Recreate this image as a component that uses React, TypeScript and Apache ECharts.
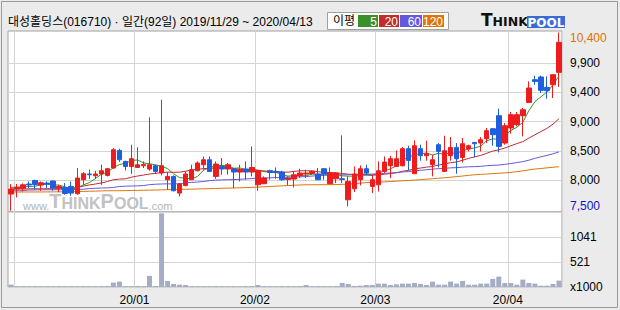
import React, { useEffect, useRef } from 'react';
import * as echarts from 'echarts';

const FONT = '"Liberation Sans", "Noto Sans CJK KR", sans-serif';

const stockName = '대성홀딩스';
const stockCode = '016710';

const dates = [
  '2019/11/29',
  '2019/12/02', '2019/12/03', '2019/12/04', '2019/12/05', '2019/12/06', '2019/12/09', '2019/12/10', '2019/12/11', '2019/12/12', '2019/12/13',
  '2019/12/16', '2019/12/17', '2019/12/18', '2019/12/19', '2019/12/20', '2019/12/23', '2019/12/24', '2019/12/26', '2019/12/27', '2019/12/30',
  '2020/01/02', '2020/01/03', '2020/01/06', '2020/01/07', '2020/01/08', '2020/01/09', '2020/01/10', '2020/01/13', '2020/01/14', '2020/01/15',
  '2020/01/16', '2020/01/17', '2020/01/20', '2020/01/21', '2020/01/22', '2020/01/23', '2020/01/28', '2020/01/29', '2020/01/30', '2020/01/31',
  '2020/02/03', '2020/02/04', '2020/02/05', '2020/02/06', '2020/02/07', '2020/02/10', '2020/02/11', '2020/02/12', '2020/02/13', '2020/02/14',
  '2020/02/17', '2020/02/18', '2020/02/19', '2020/02/20', '2020/02/21', '2020/02/24', '2020/02/25', '2020/02/26', '2020/02/27', '2020/02/28',
  '2020/03/02', '2020/03/03', '2020/03/04', '2020/03/05', '2020/03/06', '2020/03/09', '2020/03/10', '2020/03/11', '2020/03/12', '2020/03/13',
  '2020/03/16', '2020/03/17', '2020/03/18', '2020/03/19', '2020/03/20', '2020/03/23', '2020/03/24', '2020/03/25', '2020/03/26', '2020/03/27',
  '2020/03/30', '2020/03/31',
  '2020/04/01', '2020/04/02', '2020/04/03', '2020/04/06', '2020/04/07', '2020/04/08', '2020/04/09', '2020/04/10', '2020/04/13',
];

const openPrices = [
  7772, 7853, 7858, 7935, 7993, 7919, 7951, 7984, 7870, 7880,
  7896, 7777, 8005, 8098, 8070, 8098, 8075, 8195, 8482, 8303,
  8221, 8205, 8233, 8179, 8233, 8114, 8005, 8059, 7788, 7912,
  8005, 8151, 8249, 8330, 8059, 8221, 8179, 8179, 8130, 8179,
  8130, 7923, 7940, 8151, 8140, 8130, 8010, 8016, 8070, 8098,
  8107, 8098, 8184, 7940, 8021, 8021, 7679, 7858, 8005, 8184,
  7896, 7923, 8140, 8233, 8221, 8233, 8510, 8103, 8510, 8396,
  8249, 8575, 8140, 8396, 8531, 8368, 8510, 8612, 8602, 8672,
  8835, 9047, 8602, 8847, 8900, 9047, 9263, 9633, 9677, 9508,
  9551, 9752,
];
const closePrices = [
  7853, 7880, 7923, 7919, 7928, 7956, 7935, 7870, 7896, 7782,
  7788, 8033, 8103, 8086, 8098, 8151, 8184, 8493, 8330, 8221,
  8347, 8249, 8254, 8249, 8140, 8233, 8059, 7826, 7935, 8098,
  8168, 8277, 8330, 8140, 8260, 8179, 8249, 8130, 8168, 8130,
  8205, 8151, 8033, 8124, 8124, 8005, 8033, 8086, 8114, 8114,
  8140, 8005, 8098, 8114, 8114, 8010, 7977, 8098, 8184, 8114,
  8005, 8151, 8293, 8347, 8347, 8510, 8319, 8558, 8396, 8428,
  8330, 8466, 8477, 8531, 8347, 8591, 8558, 8591, 8656, 8803,
  8738, 8547, 8884, 9063, 9063, 9144, 9498, 9605, 9459, 9454,
  9714, 10240,
];
const lowPrices = [
  7500, 7717, 7814, 7870, 7842, 7826, 7870, 7826, 7805, 7761,
  7744, 7761, 7923, 8021, 8016, 7923, 8059, 8184, 8293, 8156,
  8100, 8195, 8195, 8151, 8098, 8075, 7842, 7814, 7733, 7896,
  8005, 8140, 8168, 8130, 8021, 8086, 8086, 7870, 7977, 8005,
  8059, 7826, 7935, 8005, 8021, 7988, 7912, 7880, 8033, 8033,
  8086, 8005, 8005, 7940, 7951, 7951, 7570, 7805, 7912, 8086,
  7788, 7814, 8114, 8033, 8221, 8221, 8156, 8103, 8314, 8314,
  8059, 8205, 8140, 8314, 8103, 8287, 8466, 8368, 8466, 8602,
  8558, 8449, 8575, 8754, 8873, 8710, 9263, 9551, 9416, 9323,
  9335, 9514,
];
const highPrices = [
  7935, 7935, 7945, 7977, 8005, 7977, 7977, 7993, 7923, 7951,
  7977, 8195, 8130, 8168, 8151, 8249, 8195, 8521, 8510, 8314,
  8575, 8534, 8303, 9019, 8249, 9307, 8130, 8075, 7951, 8140,
  8249, 8303, 8384, 8384, 8303, 8358, 8277, 8195, 8249, 8303,
  8547, 8168, 8059, 8168, 8205, 8151, 8059, 8130, 8184, 8168,
  8151, 8195, 8195, 8205, 8130, 8726, 8060, 8221, 8238, 8249,
  8086, 8303, 8384, 8396, 8482, 8537, 8558, 8645, 8575, 8640,
  8412, 8602, 8721, 8700, 8602, 8684, 8575, 8619, 8700, 8847,
  8847, 9161, 8928, 9107, 9107, 9172, 9605, 9698, 9698, 9687,
  9714, 10400,
];

// Volume in thousands of shares
const volumes = [
  50, 18, 15, 14, 17, 16, 13, 15, 19, 14,
  16, 15, 18, 16, 15, 17, 22, 91, 112, 20,
  18, 22, 17, 231, 20, 1533, 126, 63, 49, 42,
  18, 16, 17, 15, 19, 16, 14, 17, 15, 16,
  18, 42, 17, 16, 15, 18, 16, 17, 19, 42,
  16, 18, 17, 15, 20, 84, 63, 22, 28, 42,
  42, 70, 70, 42, 56, 70, 70, 84, 63, 42,
  112, 49, 49, 112, 70, 126, 49, 49, 70, 70,
  168, 217, 84, 84, 49, 154, 84, 70, 28, 28,
  63, 133,
];

const ma5 = [
  7880, 7885, 7890, 7895, 7901, 7921, 7932, 7922, 7917, 7888,
  7854, 7874, 7920, 7958, 8022, 8094, 8124, 8202, 8251, 8276,
  8315, 8328, 8280, 8264, 8248, 8225, 8187, 8101, 8039, 8030,
  8017, 8061, 8162, 8203, 8235, 8237, 8232, 8192, 8197, 8171,
  8176, 8157, 8137, 8129, 8127, 8087, 8064, 8074, 8072, 8070,
  8097, 8092, 8094, 8094, 8094, 8068, 8063, 8063, 8077, 8077,
  8076, 8110, 8149, 8182, 8229, 8330, 8363, 8416, 8426, 8442,
  8406, 8436, 8419, 8446, 8430, 8482, 8501, 8524, 8549, 8640,
  8669, 8667, 8726, 8807, 8859, 8940, 9130, 9275, 9354, 9432,
  9546, 9694,
];
const ma20 = [
  7856, 7856, 7857, 7857, 7858, 7858, 7859, 7859, 7860, 7862,
  7866, 7878, 7902, 7920, 7935, 7952, 7975, 8005, 8015, 8021,
  8046, 8065, 8081, 8098, 8108, 8122, 8128, 8126, 8128, 8144,
  8163, 8175, 8186, 8189, 8197, 8199, 8202, 8184, 8176, 8171,
  8164, 8159, 8148, 8142, 8141, 8130, 8128, 8141, 8150, 8151,
  8150, 8136, 8124, 8123, 8116, 8107, 8094, 8092, 8093, 8092,
  8082, 8082, 8095, 8106, 8117, 8143, 8157, 8181, 8195, 8210,
  8220, 8243, 8262, 8283, 8294, 8323, 8353, 8377, 8401, 8435,
  8472, 8492, 8521, 8557, 8593, 8625, 8683, 8736, 8789, 8840,
  8909, 8998,
];
const ma60 = [
  7826, 7826, 7828, 7838, 7840, 7841, 7842, 7842, 7843, 7843,
  7844, 7846, 7850, 7862, 7866, 7870, 7872, 7880, 7895, 7900,
  7903, 7906, 7910, 7925, 7932, 7936, 7938, 7938, 7940, 7955,
  7962, 7968, 7977, 7990, 7998, 8003, 8005, 8008, 8012, 8018,
  8025, 8030, 8033, 8036, 8040, 8044, 8048, 8050, 8052, 8056,
  8065, 8072, 8076, 8079, 8082, 8085, 8087, 8090, 8093, 8095,
  8097, 8102, 8108, 8115, 8122, 8131, 8138, 8149, 8158, 8168,
  8177, 8185, 8191, 8198, 8202, 8210, 8216, 8218, 8223, 8233,
  8239, 8244, 8255, 8268, 8284, 8299, 8323, 8353, 8378, 8401,
  8426, 8459,
];
const ma120 = [
  7805, 7805, 7805, 7806, 7806, 7806, 7807, 7807, 7808, 7808,
  7809, 7812, 7815, 7818, 7820, 7823, 7826, 7826, 7827, 7828,
  7830, 7832, 7834, 7836, 7837, 7840, 7843, 7846, 7848, 7850,
  7852, 7855, 7857, 7860, 7863, 7866, 7868, 7870, 7874, 7877,
  7880, 7885, 7890, 7896, 7900, 7905, 7910, 7915, 7920, 7923,
  7923, 7924, 7924, 7925, 7926, 7930, 7935, 7940, 7950, 7958,
  7962, 7965, 7970, 7976, 7982, 7988, 7993, 7999, 8006, 8014,
  8022, 8029, 8037, 8046, 8056, 8066, 8076, 8086, 8092, 8098,
  8104, 8110, 8117, 8124, 8136, 8150, 8165, 8179, 8188, 8198,
  8208, 8217,
];

const maPeriods = ['5', '20', '60', '120'];
const maColors = ['#3d8f27', '#c22c2a', '#6458dc', '#e07408'];
const priceGridValues = [8000, 8475, 8950, 9425, 9900];
const priceTickLabels = ['8,000', '8,500', '9,000', '9,400', '9,900'];
const xTickLabels = ['20/01', '20/02', '20/03', '20/04'];
const PRICE_MIN = 7480;
const PRICE_MAX = 10425;
const VOL_MAX = 1562;

const RED = '#ee1c1c';
const BLUE = '#1f5fde';

function monthKey(d: string) {
  return d.slice(2, 4) + '/' + d.slice(5, 7);
}
function isMonthStart(i: number) {
  return i > 0 && monthKey(dates[i]) !== monthKey(dates[i - 1]);
}
function fmt(n: number) {
  return n.toLocaleString('en-US');
}

function buildOption() {
  const maxHigh = Math.max(...highPrices);
  const minLow = Math.min(...lowPrices);
  const candles = dates.map((_, i) => [openPrices[i], closePrices[i], lowPrices[i], highPrices[i]]);
  const maSeries = [ma5, ma20, ma60, ma120].map((d, k) => ({
    type: 'line',
    name: 'MA' + maPeriods[k],
    xAxisIndex: 0,
    yAxisIndex: 0,
    data: d,
    symbol: 'none',
    showSymbol: false,
    smooth: false,
    lineStyle: { width: 1, color: maColors[k] },
    itemStyle: { color: maColors[k] },
    z: 2,
    silent: true,
  }));

  const legendX = [358, 379, 400, 423];
  const legendW = [20, 20, 22, 21];

  const title = `${stockName}(${stockCode}) · 일간(${dates.length}일) ${dates[0]} ~ ${dates[dates.length - 1]}`;

  return {
    animation: false,
    backgroundColor: '#ebebeb',
    textStyle: { fontFamily: FONT },
    title: {
      text: title,
      left: 8,
      top: 16,
      padding: 0,
      textStyle: { fontSize: 12, fontWeight: 'normal', color: '#000', fontFamily: FONT },
    },
    grid: [
      { left: 8, right: 58, top: 31, height: 181, show: true, backgroundColor: '#ffffff', borderColor: '#a0a0a0', borderWidth: 1 },
      { left: 8, right: 58, top: 212, height: 75, show: true, backgroundColor: '#ffffff', borderColor: '#a0a0a0', borderWidth: 1 },
    ],
    xAxis: [
      {
        type: 'category',
        gridIndex: 0,
        data: dates,
        boundaryGap: true,
        axisLine: { show: false },
        axisTick: { show: false },
        axisLabel: { show: false },
        splitLine: { show: true, interval: (i: number) => isMonthStart(i), lineStyle: { color: '#d4d4d4', width: 1 } },
      },
      {
        type: 'category',
        gridIndex: 1,
        data: dates,
        boundaryGap: true,
        axisLine: { show: false },
        axisTick: { show: false },
        axisLabel: {
          show: true,
          interval: (i: number) => isMonthStart(i) && xTickLabels.includes(monthKey(dates[i])),
          formatter: (v: string) => monthKey(v),
          margin: 7,
          fontSize: 12,
          color: '#000',
          fontFamily: FONT,
          padding: [0, 6, 0, 0],
        },
        splitLine: { show: true, interval: (i: number) => isMonthStart(i), lineStyle: { color: '#d4d4d4', width: 1 } },
      },
    ],
    yAxis: [
      {
        type: 'value',
        gridIndex: 0,
        position: 'right',
        min: PRICE_MIN,
        max: PRICE_MAX,
        axisLine: { show: false },
        axisTick: { show: false, customValues: priceGridValues },
        splitLine: { show: true, lineStyle: { color: '#d4d4d4', width: 1 } },
        axisLabel: {
          customValues: [minLow, ...priceGridValues, maxHigh],
          margin: 8,
          fontSize: 12,
          color: '#000',
          fontFamily: FONT,
          formatter: (v: number) => {
            if (v === maxHigh) return `{hi|${fmt(v)}}`;
            if (v === minLow) return `{lo|${fmt(v)}}`;
            const k = priceGridValues.indexOf(v);
            return k >= 0 ? priceTickLabels[k] : '';
          },
          rich: {
            hi: { color: '#e07000', fontSize: 12, fontFamily: FONT, padding: [10, 0, 0, 0] },
            lo: { color: '#1414c8', fontSize: 12, fontFamily: FONT, padding: [0, 0, 9, 0] },
          },
        },
      },
      {
        type: 'value',
        gridIndex: 1,
        position: 'right',
        min: 0,
        max: VOL_MAX,
        interval: VOL_MAX / 3,
        axisLine: { show: false },
        axisTick: { show: false },
        splitLine: { show: true, lineStyle: { color: '#d4d4d4', width: 1 } },
        axisLabel: {
          showMaxLabel: false,
          margin: 8,
          fontSize: 12,
          color: '#000',
          fontFamily: FONT,
          formatter: (v: number) => (v === 0 ? 'x1000' : String(Math.round(v))),
        },
      },
    ],
    series: [
      ...maSeries,
      {
        type: 'candlestick',
        name: 'price',
        xAxisIndex: 0,
        yAxisIndex: 0,
        data: candles,
        barWidth: 5,
        z: 3,
        itemStyle: { color: RED, color0: BLUE, borderColor: RED, borderColor0: BLUE, borderWidth: 1 },
      },
      {
        type: 'bar',
        name: 'volume',
        xAxisIndex: 1,
        yAxisIndex: 1,
        data: volumes,
        barWidth: 5,
        itemStyle: { color: '#a3adc6' },
      },
    ],
    graphic: [
      {
        type: 'rect',
        z: 100,
        silent: true,
        shape: { x: 1.5, y: 1.5, width: 616, height: 306 },
        style: { fill: 'none', stroke: '#9a9a9a', lineWidth: 1 },
      },
      {
        type: 'group',
        z: 100,
        children: [
          { type: 'rect', shape: { x: 327.5, y: 12.5, width: 121, height: 17 }, style: { fill: '#fff', stroke: '#a0a0a0', lineWidth: 1 } },
          { type: 'text', x: 333, y: 21, style: { text: '이평', fill: '#000', fontSize: 12, fontFamily: FONT, verticalAlign: 'middle' } },
          ...maPeriods.flatMap((p, k) => [
            { type: 'rect', shape: { x: legendX[k], y: 15, width: legendW[k], height: 12 }, style: { fill: maColors[k] } },
            {
              type: 'text',
              x: legendX[k] + legendW[k] - 1,
              y: 21.5,
              style: { text: p, fill: '#fff', fontSize: 12, fontFamily: FONT, align: 'right', verticalAlign: 'middle' },
            },
          ]),
        ],
      },
      {
        type: 'group',
        z: 100,
        children: [
          {
            type: 'text',
            x: 481,
            y: 28,
            style: {
              text: '{t|T}{h|HINK}',
              verticalAlign: 'bottom',
              rich: {
                t: { fontSize: 17, fontWeight: 'bold', fontFamily: '"DejaVu Sans"', fill: '#111', verticalAlign: 'bottom' },
                h: { fontSize: 12.5, fontWeight: 'bold', fontFamily: '"DejaVu Sans"', fill: '#111', verticalAlign: 'bottom' },
              },
            },
          },
          { type: 'rect', shape: { x: 527, y: 16, width: 38, height: 12 }, style: { fill: '#3a6cd6' } },
          {
            type: 'text',
            x: 546,
            y: 22.5,
            style: { text: 'POOL', fill: '#fff', fontSize: 12, fontWeight: 'bold', fontFamily: '"DejaVu Sans"', align: 'center', verticalAlign: 'middle' },
          },
        ],
      },
      {
        type: 'text',
        z: 1,
        silent: true,
        x: 23,
        y: 211,
        style: {
          text: '{w|www.}{c|T}{b|HINK}{c|P}{b|OOL}{w|.com}',
          verticalAlign: 'bottom',
          rich: {
            w: { fontSize: 11, fontFamily: FONT, fill: '#b4b4b4', verticalAlign: 'bottom' },
            c: { fontSize: 20, fontWeight: 'bold', fontFamily: FONT, fill: '#c2c2c2', verticalAlign: 'bottom' },
            b: { fontSize: 16, fontWeight: 'bold', fontFamily: FONT, fill: '#c2c2c2', verticalAlign: 'bottom' },
          },
        },
      },
    ],
  };
}

export default function App() {
  const ref = useRef<HTMLDivElement>(null);
  useEffect(() => {
    if (!ref.current) return;
    const chart = echarts.init(ref.current, null, { renderer: 'svg' });
    chart.setOption(buildOption() as any);
    return () => chart.dispose();
  }, []);
  return (
    <div style={{ position: 'fixed', left: 0, top: 0, width: 620, height: 310, background: '#ebebeb' }}>
      <div ref={ref} style={{ width: 620, height: 310 }} />
    </div>
  );
}
